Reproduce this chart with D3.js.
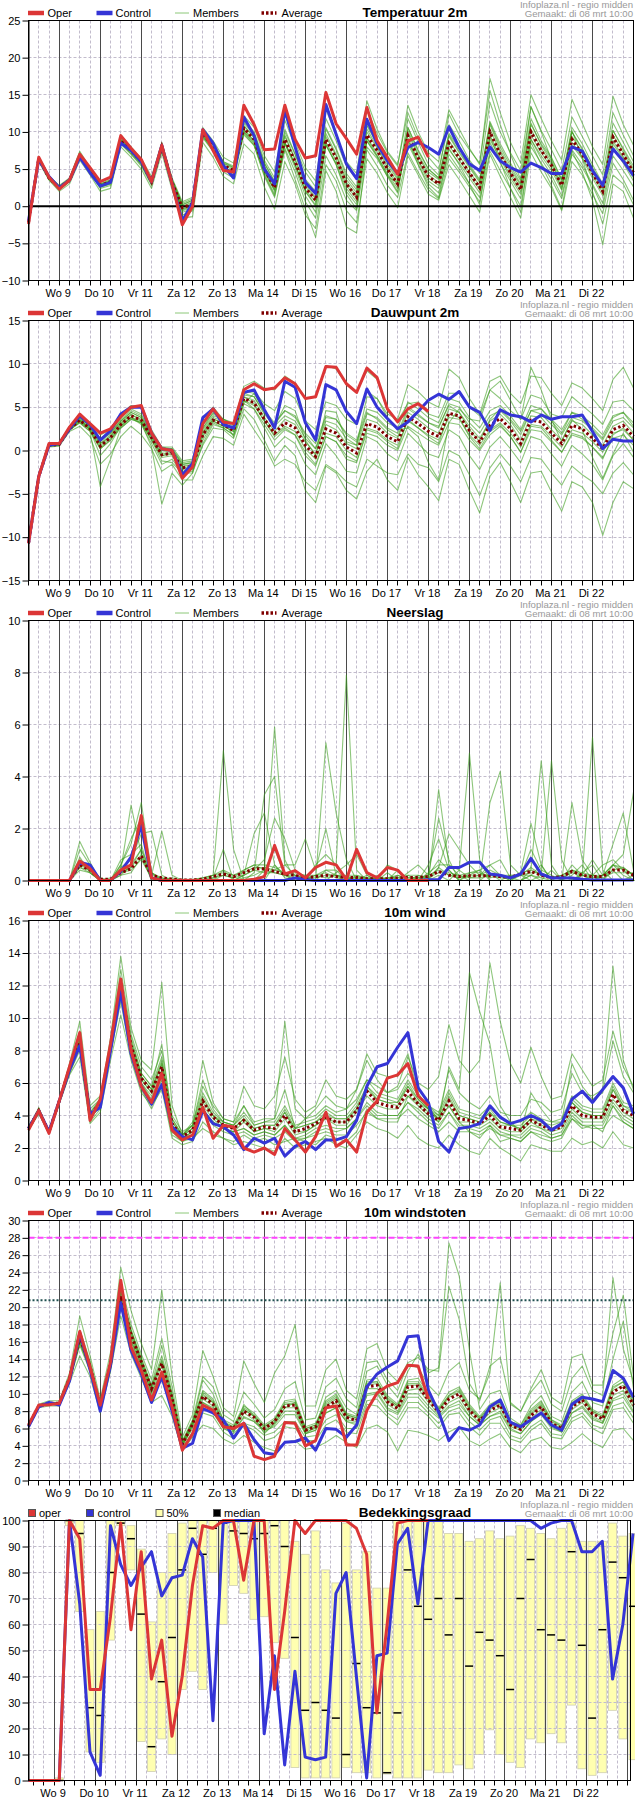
<!DOCTYPE html>
<html><head><meta charset="utf-8">
<script src="https://cdn.jsdelivr.net/npm/d3@7"></script>
<style>
body{margin:0;background:#fff}
svg{display:block}
text{font-family:"Liberation Sans",Arial,Helvetica,sans-serif}
</style>
</head><body>
<svg id="c" width="635" height="1800"></svg>
<script>
// ---------------- DATA ----------------
const dayLabels = ["Wo 9","Do 10","Vr 11","Za 12","Zo 13","Ma 14","Di 15","Wo 16","Do 17","Vr 18","Za 19","Zo 20","Ma 21","Di 22"];
const sourceLines = ["Infoplaza.nl - regio midden","Gemaakt: di 08 mrt 10:00"];
const legendNames = ["Oper","Control","Members","Average"];
const cloudLegendNames = ["oper","control","50%","median"];

// Temperature 2m (6-hourly, from Tue 8 Mar 06 UTC)
const tempOper = [-2.4,6.6,3.9,2.3, 3.5,7.0,5.2,3.3, 3.9,9.5,7.8,6.3, 3.3,8.2,3.0,-2.5, 0.0,10.3,7.5,4.8, 4.6,13.6,11.0,7.6, 7.7,13.6,9.0,6.5, 6.8,15.3,11.1,9.1, 7.0,13.3,8.8,6.6, 4.3,8.8,9.3,6.6];
const tempCtrl = [-2.0,6.3,4.0,2.5, 3.5,6.6,4.5,2.7, 3.2,8.5,7.5,6.0, 3.3,8.2,3.0,-2.0, 0.5,10.3,8.5,5.5, 3.8,12.0,9.5,5.0, 3.0,13.0,8.0,3.2, 1.7,13.7,9.7,5.7, 3.7,11.7,8.4,6.1, 4.4,7.9,8.6,7.9, 7.0,10.7,7.9,5.7, 4.8,8.0,6.1,5.2, 4.6,5.8,5.2,4.4, 4.4,8.0,7.4,4.8, 2.8,7.7,6.1,4.1];
const tempAvg = [-2.2,6.4,3.8,2.5, 3.5,6.8,4.8,2.8, 3.3,8.8,7.5,6.0, 3.3,8.0,3.2,-0.2, 0.3,9.8,8.0,5.5, 4.8,10.5,9.0,5.0, 2.5,9.0,6.0,2.5, 0.8,9.0,6.5,3.0, 1.2,9.6,7.5,5.0, 3.0,9.5,6.5,4.0, 3.0,8.5,6.5,4.5, 2.5,10.0,7.0,4.5, 2.2,10.0,7.5,5.5, 2.8,9.0,7.0,4.5, 2.0,9.3,7.0,4.5];
const tempMembers = [
 [-2.0,6.6,4.0,2.8, 3.8,7.4,5.2,3.2, 3.8,9.6,8.0,6.4, 4.0,8.6,3.8,0.6, 1.2,10.6,8.8,6.6, 5.8,12.2,10.6,6.8, 4.6,12.4,8.6,5.2, 3.4,13.0,9.6,6.0, 4.4,14.2,10.4,7.4, 5.6,12.6,9.2,6.6, 5.0,11.0,8.8,6.2, 4.4,14.0,10.0,7.2, 4.8,13.4,10.2,7.6, 4.8,12.0,9.4,6.8, 4.2,12.6,9.6,6.8],
 [-2.4,6.0,3.5,2.0, 3.0,6.2,4.2,2.0, 2.4,8.0,6.6,5.0, 2.4,7.2,2.2,-1.6, -1.4,8.6,6.6,4.0, 3.0,8.4,7.0,2.6, -0.4,6.0,3.0,-1.2, -3.0,5.6,3.4,-0.6, -2.2,6.4,4.4,1.8, -0.2,6.8,4.2,1.6, 0.8,5.6,3.6,1.4, -0.8,7.0,4.0,1.2, -1.6,7.2,4.6,2.4, -0.6,6.0,4.2,1.6, -1.0,5.8,3.6,0.8],
 [-2.2,6.3,3.7,2.4, 3.4,6.6,4.6,2.4, 2.8,8.4,7.0,5.4, 2.8,7.6,2.6,-1.2, -0.6,9.4,7.4,4.6, 3.8,9.6,8.2,4.0, 1.2,7.6,3.6,-0.4, -4.2,4.8,2.0,-2.8, -3.6,8.0,6.4,4.0, 3.2,11.8,8.6,5.6, 4.2,12.4,9.6,7.6, 5.8,15.6,11.0,7.0, 3.6,13.4,10.0,6.2, 2.2,10.2,6.4,2.0, -2.4,4.2,3.0,0.2],
 [-2.1,6.5,3.9,2.6, 3.6,7.0,5.0,3.0, 3.5,9.0,7.8,6.2, 3.6,8.3,3.6,0.2, 0.8,10.2,8.4,6.0, 5.4,11.2,9.6,5.8, 3.4,10.4,7.0,3.6, 2.0,10.6,7.8,4.4, 2.6,11.0,8.6,6.4, 4.4,8.4,5.6,3.0, 1.8,7.0,5.0,3.0, 1.2,8.6,5.8,3.4, 1.0,9.0,6.4,4.2, 1.4,7.6,5.6,3.0, 0.4,8.0,5.8,3.4],
 [-2.3,6.2,3.6,2.2, 3.3,6.6,4.4,2.6, 3.0,8.6,7.2,5.6, 3.0,7.8,3.0,-0.6, -0.2,9.6,7.8,5.2, 4.4,10.0,8.4,4.4, 1.6,8.4,5.2,1.4, -0.8,8.2,5.6,2.0, 0.2,8.8,6.6,4.0, 1.8,10.6,7.6,5.0, 3.8,9.8,7.8,5.6, 3.6,11.4,8.4,5.8, 3.4,11.8,8.8,6.6, 3.6,10.6,8.4,5.6, 3.0,11.2,8.6,6.0],
 [-2.0,6.7,4.1,2.7, 3.7,7.2,5.0,3.0, 3.6,9.2,7.8,6.2, 3.6,8.4,3.6,0.4, 1.0,10.0,8.2,5.8, 5.2,11.6,10.0,6.2, 3.8,11.6,8.0,4.6, 2.6,11.8,8.8,5.4, 3.6,13.0,9.8,7.2, 5.4,13.6,10.0,7.2, 6.0,13.0,10.4,7.8, 5.6,17.2,12.6,8.6, 5.8,15.0,11.8,8.8, 6.2,14.4,11.2,8.0, 5.6,14.8,11.0,8.2],
 [-2.3,6.2,3.6,2.3, 3.4,6.6,4.6,2.6, 3.0,8.4,7.0,5.6, 3.0,7.6,2.8,-0.8, -0.4,9.2,7.4,5.0, 4.2,9.8,8.2,4.2, 1.4,7.8,4.6,0.6, -1.6,6.8,4.2,0.8, -0.6,7.6,5.4,2.8, 1.2,7.2,4.6,2.2, 1.0,6.4,4.6,2.6, 0.6,7.4,4.8,2.4, 0.0,8.0,5.8,3.6, 1.0,7.0,5.2,2.8, -0.2,6.8,4.8,2.6],
 [-2.2,6.4,3.8,2.5, 3.5,6.8,4.7,2.8, 3.2,8.8,7.4,5.8, 3.2,7.8,3.0,-0.4, 0.0,9.8,7.8,5.2, 4.6,10.4,8.8,4.8, 2.0,8.6,5.6,2.0, 0.0,8.4,5.6,1.6, -0.4,9.2,6.8,4.2, 2.0,9.0,5.6,2.6, 1.2,7.8,5.6,3.0, 0.2,9.4,6.0,2.4, -0.8,8.6,5.6,2.8, -0.4,7.4,4.6,0.8, -5.2,3.0,2.0,-1.6],
 [-2.1,6.5,3.9,2.6, 3.6,6.9,4.9,2.9, 3.4,9.0,7.7,6.1, 3.4,8.2,3.4,0.0, 0.6,10.0,8.3,5.8, 5.0,10.9,9.3,5.4, 2.8,9.6,6.4,2.9, 1.2,9.8,7.0,3.6, 1.8,10.4,8.0,5.6, 3.6,10.2,7.0,4.6, 3.6,9.4,7.2,5.2, 3.2,11.0,7.6,5.0, 2.8,11.2,8.2,6.0, 3.4,10.0,7.6,5.0, 2.6,10.2,7.6,5.0],
 [-2.3,6.3,3.7,2.4, 3.4,6.7,4.7,2.7, 3.2,8.6,7.3,5.8, 3.2,7.8,3.0,-0.5, 0.0,9.6,7.8,5.2, 4.6,10.0,8.6,4.6, 2.2,8.4,5.6,2.0, 0.2,8.2,5.8,2.4, 0.6,8.8,6.8,4.4, 2.4,8.8,6.0,3.4, 2.4,7.6,5.8,3.8, 1.8,9.0,6.4,3.8, 1.6,9.0,6.8,4.8, 2.2,8.2,6.4,3.8, 1.4,8.4,6.4,3.8],
 [-2.2,6.4,3.8,2.5, 3.5,6.8,4.8,2.9, 3.3,8.9,7.6,6.0, 3.3,8.1,3.3,-0.1, 0.4,10.2,8.2,5.6, 4.8,10.8,9.2,5.2, 2.6,9.4,6.2,2.6, 1.0,9.4,6.8,3.2, 1.4,10.0,7.8,5.2, 3.2,9.8,6.8,4.2, 3.2,8.8,6.8,4.6, 2.8,10.4,7.2,4.6, 2.4,10.4,7.8,5.6, 3.0,9.4,7.2,4.6, 2.2,9.6,7.2,4.6],
 [-2.2,6.5,3.9,2.5, 3.6,6.9,4.8,2.8, 3.4,8.7,7.4,5.9, 3.3,8.0,3.1,-0.3, 0.2,9.4,7.6,5.2, 4.6,10.2,8.8,4.8, 2.2,8.6,5.6,2.2, 0.6,8.6,6.2,2.8, 1.0,9.2,7.2,4.8, 2.8,9.2,6.2,3.8, 2.8,8.2,6.2,4.2, 2.2,9.6,6.6,4.2, 2.0,9.6,7.2,5.2, 2.6,8.6,6.6,4.2, 1.8,8.8,6.6,4.2],
 [-2.1,6.4,3.8,2.6, 3.5,6.8,4.9,2.9, 3.3,8.8,7.5,6.1, 3.4,8.1,3.4,0.2, 0.8,10.4,8.6,6.0, 5.2,11.4,9.8,5.8, 3.2,10.0,7.0,3.4, 1.8,10.4,7.6,4.0, 2.2,10.8,8.4,6.0, 3.8,10.6,7.4,5.0, 3.8,9.6,7.4,5.4, 3.4,11.2,8.0,5.4, 3.0,11.0,8.4,6.4, 3.6,10.0,7.8,5.2, 2.8,10.2,7.8,5.4]
];

// Dauwpunt 2m
const dewOper = [-10.7,-3.0,0.8,0.8, 2.7,4.2,3.1,2.0, 2.5,3.9,5.0,5.2, 2.0,0.2,0.0,-3.2, -1.9,3.1,4.8,3.3, 3.1,7.0,7.7,7.0, 7.2,8.4,7.7,6.0, 6.2,9.7,9.6,7.7, 6.7,9.5,8.4,4.8, 3.3,4.8,5.4,4.5];
const dewCtrl = [-10.7,-3.0,0.6,0.8, 2.5,4.0,3.0,1.2, 2.3,4.2,5.0,5.0, 2.0,0.2,0.0,-2.8, -1.5,3.8,4.8,3.0, 2.6,6.7,7.0,4.7, 2.6,8.0,7.3,3.2, 1.2,7.6,7.0,4.5, 3.1,7.1,5.0,3.7, 2.5,3.3,4.5,5.8, 6.5,5.9,6.8,5.0, 4.4,2.3,4.7,4.1, 3.9,3.3,4.1,3.6, 3.9,3.9,4.1,2.2, 0.2,1.3,1.1,1.1];
const dewAvg = [-10.7,-3.0,0.6,0.7, 2.5,3.5,2.5,0.5, 1.5,3.0,4.0,3.5, 1.5,-0.5,-0.3,-2.0, -1.8,1.8,3.5,3.0, 2.3,6.0,5.5,3.6, 2.0,3.2,2.6,0.6, -0.7,2.5,2.0,0.4, -0.3,3.1,2.7,1.6, 1.0,3.9,3.1,2.2, 1.6,4.3,4.0,2.3, 1.0,2.9,3.7,2.5, 0.8,3.5,3.3,2.0, 0.8,2.9,2.5,1.4, 0.2,2.4,2.9,1.6];
const dewMembers = [
 [-10.6,-2.9,0.8,0.9, 2.8,4.2,3.2,1.8, 2.4,4.2,5.2,5.0, 2.4,0.4,0.2,-2.8, -1.4,3.6,5.0,3.6, 3.2,7.4,8.0,7.2, 7.0,8.6,7.8,6.0, 6.2,9.8,9.4,7.6, 6.8,9.2,8.2,4.6, 3.4,5.4,5.6,4.2, 3.8,6.6,6.6,5.0, 4.0,7.0,6.0,4.6, 3.6,6.4,6.0,4.2, 3.8,6.2,5.2,4.2, 3.0,5.6,5.8,4.6],
 [-10.8,-3.1,0.4,0.5, 2.2,2.8,1.6,-1.6, -0.4,1.6,2.8,1.8, 0.2,-2.4,-1.6,-3.4, -3.4,-0.6,1.6,1.4, 0.6,4.2,2.4,0.6, -1.8,-1.0,-1.6,-3.6, -4.6,-1.6,-2.4,-3.6, -4.2,-1.0,-1.8,-2.6, -2.8,-0.4,-1.6,-2.0, -3.6,0.0,-0.6,-2.8, -5.2,-2.0,-0.4,-1.8, -3.6,-0.8,-1.0,-2.6, -4.0,-1.8,-2.8,-3.6, -5.0,-2.6,-1.4,-2.8],
 [-10.7,-3.0,0.6,0.8, 2.4,3.2,2.2,-4.2, -1.0,2.6,3.6,3.2, 0.4,-6.2,-2.6,-4.0, -2.6,2.6,4.4,3.6, 1.6,5.4,6.6,4.6, 2.8,5.2,4.6,1.2, -0.6,4.6,4.4,1.0, 0.6,6.2,6.0,3.8, 2.4,2.6,1.6,-1.4, -3.4,3.2,4.8,3.6, 3.4,7.0,8.0,5.8, 3.6,9.6,7.0,3.6, 1.0,3.6,2.4,-0.8, -3.2,-0.4,2.0,-0.2],
 [-10.7,-3.0,0.7,0.7, 2.6,3.7,2.8,1.2, 2.0,3.4,4.4,3.8, 1.8,0.0,0.2,-1.6, -1.4,2.2,3.6,3.2, 2.6,6.4,6.2,4.4, 3.0,4.6,3.8,1.8, 0.2,3.8,3.6,1.8, 1.0,4.4,3.6,2.4, 1.6,4.8,4.0,3.2, 2.8,5.2,4.4,2.4, 1.0,3.6,4.8,3.6, 2.2,4.6,4.8,3.4, 2.0,4.4,3.6,2.6, 1.4,3.8,4.4,2.8],
 [-10.7,-3.1,0.5,0.6, 2.3,3.4,2.4,-0.6, 0.8,2.8,3.8,3.0, 0.8,-1.6,-1.0,-2.6, -2.6,0.8,3.0,2.6, 1.8,5.8,4.8,2.6, 0.4,1.6,0.8,-1.6, -2.8,0.8,-0.6,-2.4, -2.6,1.6,1.0,-0.4, -1.2,2.0,0.8,-0.4, -0.8,2.4,1.6,-0.6, -2.2,0.4,1.6,0.2, -1.4,1.6,1.2,-0.4, -1.8,0.6,-0.4,-1.6, -3.4,-0.6,0.8,-0.8],
 [-10.8,-3.0,0.5,0.6, 2.4,3.6,2.4,0.2, 1.2,3.0,3.8,3.2, 1.2,-1.2,-1.4,-2.6, -2.4,0.6,2.6,2.4, 1.4,4.8,3.6,1.2, -1.2,0.6,-0.6,-4.6, -6.0,-1.8,-2.6,-4.6, -5.6,-2.4,-1.0,-3.4, -4.6,-0.8,-2.8,-4.2, -5.8,-1.0,-1.6,-4.6, -7.2,-3.0,-1.4,-3.6, -6.0,-2.6,-2.4,-4.8, -7.0,-3.6,-4.2,-6.0, -9.8,-6.0,-3.6,-4.4],
 [-10.6,-2.9,0.7,0.8, 2.7,3.9,2.8,1.4, 2.2,3.8,4.8,4.2, 2.0,0.4,0.4,-1.2, -1.0,3.0,4.2,3.6, 3.0,6.8,6.8,5.4, 4.6,6.8,6.0,3.4, 2.4,5.6,5.2,3.6, 3.0,6.8,6.0,4.2, 3.6,7.6,6.8,5.6, 5.0,9.4,8.4,6.0, 4.2,8.0,8.6,6.6, 5.4,8.6,8.4,6.6, 5.2,7.8,7.2,6.0, 4.6,8.2,9.6,7.2],
 [-10.7,-3.0,0.6,0.7, 2.5,3.5,2.6,0.8, 1.6,3.2,4.2,3.4, 1.6,-0.6,-0.2,-2.0, -1.8,1.8,3.4,2.8, 2.2,6.2,5.4,3.4, 1.6,2.6,1.8,-0.6, -1.8,1.6,1.0,-1.0, -1.4,2.4,2.0,1.0, 0.2,3.6,2.6,1.6, 0.8,4.2,3.8,1.6, 0.2,2.2,3.0,1.6, -0.2,2.8,2.6,1.2, -0.2,2.0,1.6,0.4, -1.0,1.8,2.6,1.2],
 [-10.7,-3.0,0.7,0.8, 2.6,3.8,2.8,0.8, 1.8,3.4,4.4,3.8, 1.8,-0.2,0.0,-1.6, -1.4,2.4,3.8,3.4, 2.8,6.6,6.2,4.2, 2.8,4.0,3.4,1.4, 0.2,3.4,3.0,1.4, 0.6,4.2,3.8,2.6, 2.0,5.0,4.2,3.2, 2.6,5.4,5.0,3.2, 2.0,4.0,4.6,3.4, 1.8,4.6,4.2,3.0, 1.8,3.8,3.4,2.4, 1.2,3.4,3.8,2.6],
 [-10.7,-3.0,0.5,0.6, 2.4,3.2,2.2,0.2, 1.2,2.6,3.6,3.2, 1.2,-0.8,-0.6,-2.4, -2.2,1.2,3.2,2.6, 1.8,5.4,4.8,3.0, 1.2,2.4,1.8,-0.2, -1.6,1.6,1.0,-0.6, -1.2,2.0,1.6,0.6, 0.0,2.8,2.0,1.2, 0.6,3.2,3.0,1.2, 0.0,1.8,2.8,1.6, -0.2,2.4,2.2,1.0, -0.2,1.8,1.4,0.4, -0.8,1.4,1.8,0.6],
 [-10.7,-3.0,0.6,0.7, 2.5,3.6,2.6,0.6, 1.6,3.1,4.1,3.6, 1.6,-0.4,-0.2,-1.8, -1.6,2.0,3.6,3.2, 2.4,6.2,5.8,3.8, 2.2,3.6,3.0,1.0, -0.4,3.0,2.4,0.8, 0.2,3.6,3.2,2.0, 1.4,4.4,3.6,2.6, 2.0,4.8,4.4,2.8, 1.4,3.4,4.2,3.0, 1.2,4.0,3.8,2.4, 1.2,3.4,3.0,1.8, 0.6,2.8,3.4,2.0],
 [-10.7,-3.0,0.6,0.7, 2.5,3.4,2.4,0.4, 1.4,2.8,3.8,3.4, 1.4,-0.6,-0.4,-2.2, -2.0,1.6,3.4,2.8, 2.2,5.8,5.2,3.4, 1.8,2.8,2.2,0.2, -1.0,2.0,1.6,0.0, -0.8,2.6,2.2,1.2, 0.6,3.4,2.6,1.8, 1.2,3.8,3.6,1.8, 0.6,2.4,3.2,2.0, 0.4,3.0,2.8,1.6, 0.4,2.4,2.0,1.0, -0.2,2.0,2.4,1.2],
 [-10.6,-2.9,0.7,0.8, 2.7,3.9,3.0,1.0, 2.0,3.6,4.6,4.0, 2.0,0.0,0.2,-1.4, -1.2,2.6,4.0,3.6, 3.0,6.8,6.6,4.6, 3.2,4.6,4.0,2.0, 0.8,4.0,3.6,2.0, 1.2,4.8,4.4,3.2, 2.6,5.6,4.8,3.8, 3.2,6.0,5.6,3.8, 2.6,4.6,5.2,4.0, 2.4,5.2,4.8,3.6, 2.4,4.4,4.0,3.0, 1.8,4.0,4.4,3.2]
];

// Neerslag
const rainOper = [0,0,0,0, 0,0.75,0.45,0, 0,0.4,0.6,2.5, 0.1,0,0,0, 0,0,0,0, 0,0,0.05,0.15, 1.35,0.25,0.38,0.1, 0.5,0.7,0.6,0.03, 1.2,0.3,0.1,0.5, 0.4,0,0,0];
const rainCtrl = [0,0,0,0, 0,0.7,0.6,0, 0,0.35,0.9,2.1, 0.1,0,0,0, 0,0,0,0, 0,0,0,0, 0,0,0.1,0.03, 0,0,0,0, 0,0,0,0, 0,0,0,0.03, 0.03,0.5,0.5,0.7, 0.7,0.25,0.2,0.1, 0.25,0.85,0.25,0.1, 0.1,0.1,0.05,0.02, 0.02,0.02,0.02,0.02];
const rainAvg = [0,0,0,0, 0,0.6,0.4,0.05, 0.05,0.3,0.45,0.95, 0.2,0.1,0.05,0.02, 0.02,0.05,0.15,0.25, 0.15,0.3,0.45,0.45, 0.35,0.25,0.2,0.1, 0.15,0.2,0.15,0.12, 0.12,0.07,0.07,0.07, 0.1,0.12,0.12,0.15, 0.35,0.2,0.15,0.18, 0.18,0.18,0.15,0.12, 0.25,0.35,0.2,0.1, 0.15,0.35,0.2,0.15, 0.15,0.4,0.4,0.2];
const rainMembers = [
 [0,0,0,0, 0,1.2,0.6,0, 0,0.6,1.4,3.0, 0.3,0,0,0, 0,0,0,0.4, 0,0.2,1.8,2.6, 0.6,0.2,0,0, 0,0.4,0.2,0, 0.2,0,0,0.3, 0,0,0,0.2, 2.4,0.8,0,0.3, 0.4,0,0,0, 0.3,2.2,0.6,0, 0,0.4,0,0, 0.2,1.4,2.6,0.4],
 [0,0,0,0, 0,0.5,0.4,0, 0,0.3,0.5,1.2, 0,0,0,0, 0,0,0.2,5.0, 1.2,0,0,0.4, 5.9,0.8,0,0.2, 0,5.3,2.6,0.8, 0,0,0,0, 0,0.2,0,0, 0,0,0.4,4.9, 0.8,0,0,0, 0,0.4,4.6,0.6, 0,0,0.2,5.5, 0.4,0,0,0],
 [0,0,0,0, 0,0.8,0.5,0, 0,0.5,0.8,1.8, 1.9,0.2,0,0, 0,0,0,0.2, 0.1,0.4,0.6,0.4, 1.2,0.2,0.1,0, 0.6,1.0,0.6,7.9, 0.4,0,0.2,0, 0.4,0,0,0.3, 0.6,0.6,0.4,0.1, 0.2,0.6,0.8,0.1, 0,0,0.2,4.6, 0.8,0,0.3,0.6, 0,0.6,1.0,3.4],
 [0,0,0,0, 0,0.6,0.4,0, 0,0.2,0.3,0.9, 0.1,0,0,0, 0,0,0,0, 0,0,0.3,3.3, 4.0,0.6,0.2,0, 0,0,0,0.2, 0,0,0,0.6, 0.4,0,0,0, 3.5,0.6,0.2,0, 0,0,0,0, 0,0.2,0,0, 0,0.2,0.6,0, 0,0,0,0.2],
 [0,0,0,0, 0,0.4,0.3,0, 0,0.4,0.6,2.2, 0.2,1.9,0.2,0, 0,0,0.1,1.2, 0,0.2,0.4,0.8, 2.4,1.6,0.4,0.1, 0,0,0.3,0.6, 1.0,0.2,0,0, 0,0,0.2,0, 0.5,1.8,1.2,0.6, 0.2,0.4,0.2,0, 0.2,1.2,0.4,0.2, 0,0.6,0.2,0, 0.2,0.6,0.2,0],
 [0,0,0,0, 0,1.5,0.7,0, 0,0.8,1.0,1.4, 0,0,0,0, 0,0,0,0, 0,0,0,0.2, 0.4,0.6,0.6,1.6, 0.4,2.0,0.2,0.1, 0,0,0.1,0, 0,0.3,0.6,0.2, 0.8,0.4,0,0, 0,3.0,4.2,0.6, 0.2,0,0,0.4, 0,3.0,0.8,0.2, 0,0.4,0,0, 0,0.2,0.6,0.4],
 [0,0,0,0, 0,0.7,0.6,0, 0,0.4,2.9,1.0, 0,0,0,0, 0,0,0,0, 0,0.1,0.2,0.4, 0.3,0.2,0,0, 0.2,0.4,0.4,0, 0,0.2,0,0, 0,0,0,0, 0.2,0,0,0, 0,0.3,0,0.2, 0.2,0.2,0.1,0, 0,0,0,0.2, 0.6,0.8,0.4,0],
 [0,0,0,0, 0,0.9,0.3,0, 0,0.6,1.6,2.4, 0.3,0,0,0, 0,0,0,0, 0,0,0,0, 0.6,0.1,0,0, 0,0,0,0, 0,0,0,0, 0.2,0,0,0.6, 1.6,0.4,0,0.2, 0.4,0.6,0.2,0, 0,0.2,0.6,0, 0.2,0,0.2,0.8, 0.2,0.6,0.4,0.2],
 [0,0,0,0, 0,0.6,0.5,0.05, 0,0.3,0.5,1.0, 0.2,0.1,0,0, 0,0.1,0.2,0.3, 0.2,0.3,0.5,0.5, 0.4,0.3,0.2,0.1, 0.1,0.2,0.2,0.1, 0.1,0.1,0,0.1, 0.1,0.1,0.1,0.2, 0.4,0.2,0.1,0.2, 0.2,0.2,0.1,0.1, 0.3,0.4,0.2,0.1, 0.1,0.3,0.2,0.1, 0.2,0.4,0.5,0.2],
 [0,0,0,0, 0,0.5,0.3,0, 0.1,0.3,0.4,0.8, 0.1,0.05,0.1,0, 0,0,0.1,0.2, 0.1,0.2,0.4,0.3, 0.3,0.2,0.2,0.1, 0.2,0.3,0.1,0.1, 0.1,0.05,0.1,0.05, 0.1,0.2,0.2,0.1, 0.3,0.3,0.2,0.1, 0.1,0.2,0.2,0.1, 0.2,0.3,0.3,0.1, 0.2,0.4,0.2,0.2, 0.1,0.3,0.3,0.3],
 [0,0,0,0, 0,0.7,0.4,0.1, 0,0.2,0.6,1.2, 0.3,0.1,0,0.05, 0.05,0.1,0.2,0.4, 0.2,0.4,0.6,0.6, 0.5,0.3,0.3,0.2, 0.2,0.1,0.2,0.2, 0.2,0.1,0.1,0.1, 0.2,0.1,0.1,0.1, 0.5,0.2,0.2,0.3, 0.3,0.1,0.2,0.2, 0.2,0.5,0.2,0.1, 0.2,0.4,0.3,0.2, 0.2,0.6,0.5,0.2]
];

// 10m wind
const windOper = [3.1,4.3,2.9,4.9, 7.0,9.1,3.7,5.0, 8.4,12.4,8.0,5.8, 4.8,6.6,3.1,2.5, 2.8,4.5,2.6,3.4, 3.3,2.0,1.75,2.0, 1.6,3.2,2.5,1.75, 2.7,4.2,2.1,2.5, 1.75,4.2,4.9,6.3, 6.5,7.2,5.2,4.6];
const windCtrl = [3.2,4.3,3.0,4.9, 6.8,8.3,4.1,4.5, 8.0,11.6,7.8,5.8, 4.7,5.9,3.3,2.7, 2.5,4.3,3.5,3.3, 2.8,1.9,2.6,2.3, 2.6,1.5,2.1,2.4, 1.9,2.5,2.5,2.7, 3.7,5.8,7.0,7.2, 8.2,9.1,5.7,4.8, 2.4,1.75,3.2,3.3, 3.5,4.6,3.9,3.5, 3.7,4.0,3.7,3.1, 3.5,5.0,5.5,4.8, 5.6,6.4,5.7,4.1];
const windAvg = [3.2,4.3,3.0,4.9, 6.9,8.5,4.0,4.8, 8.2,11.9,8.3,6.3, 5.5,7.0,3.5,2.7, 3.1,4.9,3.9,3.4, 3.2,3.7,3.1,3.3, 3.2,4.0,3.0,3.2, 3.5,3.9,3.6,3.6, 4.3,5.5,4.8,4.6, 4.5,5.5,4.7,4.1, 3.7,4.9,3.8,3.7, 3.5,4.0,3.3,3.2, 3.1,3.7,3.4,3.1, 3.3,4.6,4.0,3.9, 3.9,5.3,4.3,4.0];
const windMembers = [
 [3.2,4.5,3.0,5.0, 7.2,9.8,4.6,5.2, 8.8,13.8,9.4,7.4, 6.8,12.2,4.6,2.8, 3.6,7.4,4.8,3.8, 3.6,5.8,4.6,4.4, 5.2,7.6,5.0,4.2, 4.6,6.2,5.2,5.0, 5.6,7.4,6.2,5.4, 5.8,7.6,6.0,5.6, 6.4,9.6,7.4,6.6, 7.4,13.4,9.8,7.2, 6.0,8.2,6.4,5.0, 5.2,7.8,6.8,5.8, 6.2,9.2,7.0,5.8],
 [3.1,4.1,2.9,4.7, 6.5,7.6,3.5,4.2, 7.4,10.2,7.4,5.4, 4.6,5.6,2.6,2.2, 2.4,3.6,3.0,2.6, 2.2,2.4,2.2,2.0, 1.8,2.6,2.0,2.2, 2.4,2.6,2.2,2.0, 2.8,3.6,3.2,3.0, 2.6,3.4,2.6,2.2, 2.0,2.8,2.2,1.8, 1.6,2.6,2.0,1.6, 1.2,2.2,2.0,1.8, 1.8,2.6,2.2,2.4, 2.0,3.0,2.2,2.0],
 [3.2,4.3,3.1,4.9, 7.0,8.8,4.2,4.9, 8.4,12.4,8.8,6.6, 5.8,8.4,3.8,2.8, 3.4,6.2,4.4,3.6, 3.4,4.6,3.4,3.6, 3.8,5.6,3.2,3.8, 4.4,5.2,4.6,4.4, 5.6,7.8,6.6,6.4, 6.4,7.8,5.4,4.4, 3.6,7.0,5.6,12.8, 10.4,8.4,4.6,3.6, 3.0,5.4,4.4,3.6, 3.6,7.2,5.8,5.0, 5.4,8.6,6.4,5.4],
 [3.3,4.4,3.0,4.9, 6.8,8.2,3.8,4.6, 8.0,11.6,8.0,6.0, 5.0,6.4,3.2,2.6, 2.8,4.4,3.6,3.2, 3.0,3.2,2.8,3.0, 2.8,3.4,2.6,2.6, 3.0,3.2,3.0,3.2, 3.8,4.6,4.0,4.0, 4.0,4.8,4.4,3.8, 3.4,4.2,3.4,3.4, 3.2,3.6,3.0,2.8, 2.8,3.4,3.2,2.8, 3.0,4.2,3.6,3.6, 3.6,4.8,4.0,3.6],
 [3.2,4.2,3.0,4.8, 6.6,8.0,3.6,4.4, 7.8,11.0,7.6,5.6, 4.4,5.8,2.8,2.4, 2.6,3.2,2.8,2.6, 2.4,2.8,2.4,2.6, 2.2,2.4,2.6,2.4, 2.2,2.8,2.6,2.4, 3.0,4.4,3.8,3.6, 3.6,5.2,4.8,4.4, 3.8,4.6,3.6,3.0, 2.6,3.4,2.4,2.6, 2.4,3.0,2.6,2.4, 2.6,3.8,3.2,3.4, 3.0,4.6,3.6,3.2],
 [3.2,4.4,3.0,5.0, 7.0,9.2,4.4,5.0, 8.6,13.0,9.0,7.0, 6.2,8.0,4.0,3.0, 3.4,5.8,4.6,3.8, 3.6,4.6,3.6,3.8, 3.8,9.8,4.4,3.8, 4.0,4.6,4.2,4.4, 5.0,6.2,5.8,5.4, 5.6,6.6,5.8,4.6, 4.0,6.8,5.4,4.8, 4.4,5.2,4.2,4.0, 4.0,5.0,4.8,4.2, 4.4,6.6,5.4,5.2, 5.6,13.2,7.4,5.6],
 [3.2,4.3,3.0,4.9, 6.9,8.6,4.0,4.8, 8.2,12.0,8.2,6.2, 5.4,7.2,3.4,2.6, 3.0,4.8,4.0,3.4, 3.2,3.8,3.0,3.2, 3.2,4.2,3.0,3.0, 3.4,3.8,3.6,3.6, 4.4,5.6,5.0,4.8, 4.8,5.8,5.0,4.4, 3.8,5.0,4.0,3.8, 3.6,4.2,3.6,3.4, 3.2,3.8,3.4,3.2, 3.4,4.8,4.2,4.0, 4.0,5.6,4.6,4.2],
 [3.1,4.2,2.9,4.8, 6.6,8.2,3.8,4.6, 7.8,11.4,7.8,5.8, 4.8,6.2,3.0,2.4, 2.8,4.2,3.4,3.0, 2.8,3.0,2.6,2.8, 2.6,3.0,2.4,2.6, 2.8,3.0,2.8,2.8, 3.4,4.2,3.8,3.8, 3.8,4.4,3.8,3.4, 3.0,3.6,3.0,3.0, 2.8,3.2,2.8,2.6, 2.4,3.0,2.8,2.6, 2.8,3.8,3.4,3.2, 3.2,4.0,3.6,3.2],
 [3.2,4.4,3.0,4.9, 7.0,8.8,4.2,5.0, 8.4,12.4,8.6,6.6, 5.8,7.6,3.8,2.8, 3.4,5.4,4.2,3.6, 3.4,4.2,3.4,3.6, 3.6,4.6,3.4,3.6, 3.8,4.4,4.0,4.0, 4.8,6.2,5.4,5.2, 5.0,6.2,5.2,4.6, 4.2,5.6,4.4,4.2, 4.0,4.6,3.8,3.6, 3.6,4.2,3.8,3.6, 3.8,5.2,4.6,4.4, 4.4,6.0,4.8,4.6],
 [3.1,4.2,3.0,4.8, 6.8,8.2,3.8,4.6, 8.0,11.4,8.0,6.0, 5.2,6.6,3.2,2.6, 2.8,4.4,3.6,3.2, 3.0,3.2,2.8,3.0, 2.8,3.4,2.6,2.8, 3.2,3.4,3.2,3.2, 3.8,4.8,4.2,4.0, 4.0,4.8,4.2,3.6, 3.2,4.2,3.2,3.2, 3.0,3.4,2.8,2.8, 2.6,3.2,3.0,2.6, 2.8,4.0,3.4,3.4, 3.4,4.6,3.8,3.4],
 [3.2,4.3,3.0,4.9, 6.9,8.6,4.0,4.8, 8.2,12.0,8.4,6.4, 5.6,7.2,3.6,2.8, 3.2,5.0,4.0,3.4, 3.2,3.8,3.2,3.4, 3.4,4.2,3.2,3.4, 3.6,4.0,3.8,3.8, 4.4,5.8,5.0,4.8, 4.6,5.8,4.8,4.2, 3.8,5.2,4.0,3.8, 3.6,4.2,3.4,3.4, 3.2,3.8,3.6,3.2, 3.4,4.8,4.2,4.0, 4.0,5.6,4.4,4.2],
 [3.2,4.3,3.0,4.9, 6.8,8.4,3.9,4.7, 8.1,11.7,8.2,6.2, 5.4,6.8,3.4,2.6, 3.0,4.6,3.8,3.2, 3.0,3.6,3.0,3.2, 3.0,3.8,2.8,3.0, 3.4,3.8,3.4,3.4, 4.2,5.2,4.6,4.4, 4.4,5.2,4.6,4.0, 3.6,4.6,3.6,3.6, 3.4,3.8,3.2,3.0, 3.0,3.6,3.2,3.0, 3.2,4.4,3.8,3.8, 3.8,5.0,4.2,3.8],
 [3.3,4.4,3.1,5.0, 7.0,8.6,4.1,4.9, 8.3,12.2,8.4,6.4, 5.6,7.4,3.6,2.7, 3.2,5.2,4.0,3.6, 3.4,4.0,3.2,3.4, 3.4,4.4,3.2,3.4, 3.6,4.2,3.8,3.8, 4.6,5.8,5.2,5.0, 4.8,6.0,5.0,4.4, 4.0,5.4,4.2,4.0, 3.8,4.4,3.6,3.4, 3.4,4.0,3.6,3.4, 3.6,5.0,4.4,4.2, 4.2,5.8,4.6,4.4]
];

// 10m windstoten
const gustOper = [6.4,8.7,8.75,8.9, 11.8,17.2,13.1,8.7, 13.7,23.1,15.4,12.7, 9.3,12.5,8.5,3.5, 5.4,8.7,8.1,6.2, 6.0,6.6,2.8,2.4, 2.8,6.7,6.6,4.0, 4.6,8.4,8.6,4.1, 4.1,8.1,10.1,10.9, 11.3,13.3,13.2,9.4];
const gustCtrl = [6.2,8.5,9.0,8.7, 11.5,17.0,12.8,8.0, 13.3,20.5,15.0,12.3, 9.0,12.0,8.0,3.7, 4.3,8.3,7.8,7.0, 4.9,6.6,4.7,3.2, 3.0,4.4,4.5,4.9, 3.5,6.0,5.9,5.0, 6.4,10.8,12.3,13.1, 13.8,16.6,16.7,10.4, 7.9,4.6,6.1,5.8, 6.4,8.5,9.3,6.7, 6.2,7.0,7.8,6.4, 5.8,8.8,9.6,9.4, 9.1,12.7,11.8,9.6];
const gustAvg = [6.3,8.6,8.9,8.9, 11.8,16.5,13.2,8.5, 13.5,21.3,16.8,13.7, 10.6,13.5,9.5,4.2, 6.5,9.7,8.8,6.5, 6.0,8.0,7.3,6.0, 6.8,8.6,8.7,5.8, 6.2,8.5,9.2,7.3, 6.9,10.8,11.0,9.1, 8.3,10.8,10.9,9.3, 7.9,9.4,10.0,8.1, 6.9,8.1,8.7,6.4, 5.9,7.5,8.5,6.6, 6.0,8.5,9.3,7.7, 7.1,10.2,10.9,8.7];
const gustMembers = [
 [6.4,8.8,9.2,9.2, 12.4,19.0,14.4,9.4, 14.8,24.6,19.6,15.8, 12.8,22.0,12.0,5.0, 7.6,15.0,12.0,8.4, 7.4,13.8,11.2,9.0, 12.4,14.4,18.0,8.6, 8.6,12.8,14.0,10.4, 9.4,15.2,15.8,12.6, 11.4,13.6,14.2,12.8, 12.6,22.4,18.6,11.2, 9.2,13.2,14.2,9.0, 8.0,10.6,12.8,9.6, 8.8,14.2,14.6,11.0, 11.0,17.0,21.4,12.0],
 [6.2,8.4,8.6,8.6, 11.2,14.4,12.0,7.8, 12.6,19.0,14.6,11.8, 9.0,9.8,7.4,3.4, 5.0,6.4,6.0,4.8, 4.2,5.2,4.4,3.8, 3.4,4.4,4.6,3.6, 3.8,4.4,5.2,4.4, 3.8,6.0,6.4,5.6, 3.4,5.8,5.6,5.2, 4.6,5.6,6.2,4.6, 4.0,4.8,5.4,3.8, 3.2,4.6,5.0,3.8, 3.6,4.4,5.4,4.4, 3.8,5.8,6.0,4.6],
 [6.3,8.6,8.9,8.9, 11.8,16.6,13.4,8.6, 13.6,21.8,17.4,13.6, 11.0,15.6,10.0,4.4, 6.6,11.6,10.0,7.0, 5.6,8.8,7.4,5.4, 6.6,8.4,9.0,5.4, 6.2,9.6,10.4,8.4, 7.6,12.6,13.2,11.0, 9.6,12.6,14.6,12.4, 13.0,27.4,23.6,15.0, 8.2,10.0,10.4,7.2, 6.4,8.6,9.8,7.4, 6.8,10.2,11.4,9.0, 8.6,14.0,18.4,10.6],
 [6.3,8.6,8.8,8.8, 11.6,16.0,13.0,8.4, 13.4,20.6,16.2,13.2, 10.2,12.4,9.0,4.2, 6.4,9.0,8.4,6.4, 5.8,7.2,6.8,5.8, 6.2,7.6,7.6,5.4, 5.8,7.8,8.4,6.8, 6.6,9.8,10.0,8.2, 7.6,9.6,9.6,8.2, 7.2,8.4,8.8,7.4, 6.4,7.4,7.8,5.8, 5.4,6.8,7.6,6.0, 5.6,7.8,8.4,7.0, 6.6,9.2,9.6,7.8],
 [6.2,8.5,8.8,8.8, 11.4,15.6,12.6,8.0, 12.8,20.0,15.6,12.6, 9.8,11.6,8.2,3.8, 5.6,7.8,7.4,5.6, 4.8,6.4,5.8,4.6, 5.0,6.2,6.0,4.6, 4.6,6.4,7.0,5.6, 5.4,8.8,8.6,7.4, 6.4,8.4,8.4,7.4, 6.0,7.6,7.8,6.2, 5.2,6.6,6.6,4.8, 4.4,5.8,6.6,5.0, 4.8,6.8,7.4,6.0, 5.4,8.2,8.4,6.6],
 [6.4,8.7,9.0,9.0, 12.0,17.4,13.8,8.8, 14.0,22.8,18.0,14.6, 11.6,16.4,10.8,4.6, 7.0,12.0,10.8,7.6, 6.8,10.2,8.8,7.2, 8.2,10.6,11.4,7.0, 7.2,10.8,11.8,9.4, 8.4,13.6,13.8,11.6, 10.4,13.4,13.0,11.0, 9.8,12.6,13.6,10.4, 9.4,12.4,22.8,8.8, 8.0,10.2,11.6,8.8, 8.0,11.8,13.2,10.4, 9.8,23.4,15.2,11.4],
 [6.3,8.6,8.9,8.9, 11.8,16.4,13.2,8.6, 13.6,21.2,16.8,13.6, 10.6,13.6,9.4,4.2, 6.6,10.0,9.0,6.6, 6.2,8.2,7.4,6.2, 7.0,8.8,9.0,6.0, 6.4,8.8,9.6,7.6, 7.2,11.2,11.4,9.4, 8.6,11.2,11.2,9.6, 8.2,9.8,10.4,8.4, 7.2,8.4,9.0,6.6, 6.0,7.8,8.8,6.8, 6.2,8.8,9.6,8.0, 7.4,10.6,11.4,9.0],
 [6.2,8.5,8.8,8.7, 11.4,15.8,12.8,8.2, 13.0,20.4,16.0,12.8, 10.0,12.0,8.6,4.0, 6.0,8.4,7.8,6.0, 5.4,6.6,6.2,5.2, 5.6,6.8,6.8,5.0, 5.2,7.0,7.6,6.0, 6.0,9.2,9.4,7.8, 7.0,9.0,9.0,7.8, 6.6,8.0,8.4,6.8, 5.8,7.0,7.4,5.2, 4.8,6.2,7.0,5.4, 5.2,7.2,7.8,6.4, 6.0,8.6,9.0,7.2],
 [6.3,8.7,9.0,9.0, 12.0,17.0,13.6,8.8, 13.8,22.0,17.4,14.2, 11.0,14.4,10.0,4.4, 6.8,10.4,9.4,7.0, 6.4,8.6,7.8,6.4, 7.2,9.2,9.4,6.2, 6.6,9.2,10.0,7.8, 7.4,11.6,11.8,9.8, 8.8,11.6,11.8,10.0, 8.4,10.2,10.8,8.8, 7.4,8.8,9.4,6.8, 6.4,8.2,9.2,7.0, 6.4,9.2,10.0,8.2, 7.6,11.0,11.8,9.4],
 [6.2,8.5,8.8,8.8, 11.6,16.0,12.8,8.2, 13.2,20.6,16.2,13.2, 10.2,12.6,9.0,4.0, 6.2,9.0,8.2,6.0, 5.6,7.4,6.8,5.6, 6.4,8.0,8.0,5.4, 5.8,7.8,8.4,6.8, 6.4,10.0,10.2,8.4, 7.8,10.0,10.0,8.6, 7.4,8.6,9.2,7.4, 6.4,7.4,8.0,6.0, 5.4,6.8,7.8,6.2, 5.6,7.8,8.6,7.2, 6.6,9.4,10.0,8.0],
 [6.3,8.6,8.9,8.9, 11.8,16.6,13.2,8.6, 13.6,21.4,17.0,13.8, 10.8,13.8,9.6,4.2, 6.6,9.8,9.0,6.6, 6.0,8.2,7.4,6.0, 6.8,8.8,8.8,5.8, 6.2,8.6,9.4,7.4, 7.0,11.0,11.2,9.2, 8.4,11.0,11.0,9.4, 8.0,9.6,10.2,8.2, 7.0,8.2,8.8,6.4, 6.0,7.6,8.6,6.6, 6.0,8.6,9.4,7.8, 7.2,10.4,11.0,8.8],
 [6.3,8.6,8.9,8.8, 11.7,16.2,13.0,8.4, 13.4,21.0,16.6,13.4, 10.4,13.2,9.2,4.0, 6.4,9.4,8.6,6.4, 5.8,7.8,7.0,5.8, 6.6,8.4,8.4,5.6, 6.0,8.2,9.0,7.0, 6.8,10.6,10.6,8.8, 8.0,10.4,10.6,9.0, 7.6,9.0,9.6,7.8, 6.6,7.8,8.4,6.2, 5.8,7.2,8.2,6.4, 5.8,8.2,9.0,7.4, 6.8,9.8,10.4,8.4],
 [6.4,8.7,9.0,9.0, 12.0,16.8,13.4,8.8, 13.8,21.8,17.2,14.0, 10.8,14.0,9.8,4.4, 6.8,10.2,9.2,6.8, 6.2,8.4,7.6,6.2, 7.0,9.0,9.2,6.0, 6.4,9.0,9.8,7.6, 7.2,11.4,11.4,9.6, 8.6,11.4,11.4,9.8, 8.2,9.8,10.6,8.6, 7.2,8.6,9.2,6.8, 6.2,8.0,9.0,7.0, 6.2,9.0,9.8,8.0, 7.4,10.8,11.4,9.2]
];
const gustRefLines = [28, 20.8];

// Bedekkingsgraad (6-hourly, from Tue 8 Mar 09 UTC)
const cloudOper = [0,0,0,0, 100,93,35,35, 63,99,58,88, 39,54,17,40, 75,98,97,100, 100,77,100,100, 35,65,100,95, 100,100,100,100, 97,87,26,60, 99,100,100,100];
const cloudCtrl = [0,0,0,0, 100,68,11,2, 98,83,75,82, 88,71,78,79, 93,86,23,99, 100,100,100,18, 48,6,42,9, 8,9,72,80, 40,1,48,49, 91,97,68,100, 100,100,100,100, 100,100,100,100, 100,100,97,99, 100,100,88,88, 92,39,60,95];
const cloudLo  = [0,0,0,0, 98,65,11,7, 54,98,81,15, 3.5,16,10,35, 42,35,80,60, 75,72,62,63, 53,47,5,1, 1,1,1,5, 3,3,1,2.5, 1,1,1,4, 3,3,6,4.5, 10,19.5,10,7, 5,16,14.5,18, 14.5,29,4.5,2, 3,27,16,8];
const cloudHi  = [0,0,0,1, 100,100,58,65, 100,100,98,89, 61,80,95,99, 100,100,100,100, 100,100,100,100, 100,100,92,87, 96,81,76,99, 81,88,74,74, 100,100,100,100, 100,95,95,92, 93,96,93,94, 98,97,95,93, 97,99,92,92, 92,99,94,95];
const cloudMed = [0,0,0,0, 100,95,28,25, 80,99,93,64, 13,38,55,81, 97,87,97,99, 96,95,93,95, 98,90,55,27, 30,27,24,10, 45,28,26,3, 26,81,67,62, 70,56,70,44, 57,54,48,35, 70,85,58,56, 54,88,52,24, 58,84,78,67];

// ---------------- CHART ----------------
const HOUR = 3600e3;
const START = Date.UTC(2022,2,8,6);
const CSTART = Date.UTC(2022,2,8,9);
const COL = {oper:"#dc3636", ctrl:"#3535d6", avg:"#800000", mem:"#3a9c1c"};
const svg = d3.select("#c");
const L = 28.5;

const xTop = d3.scaleTime().domain([new Date(START), new Date(START + 354*HOUR)]).range([L, 633.5]);
const xBot = d3.scaleTime().domain([new Date(CSTART), new Date(CSTART + 352.5*HOUR)]).range([L, 630.5]);

function snap(v){ return Math.round(v - 0.5) + 0.5; }

function drawFrame(g, x, y, top, bot, right, ticks){
  const dom = y.domain();
  ticks.forEach(v => {
    if (v === dom[0] || v === dom[1]) return;
    g.append("line").attr("x1", L).attr("x2", right).attr("y1", snap(y(v))).attr("y2", snap(y(v)))
      .attr("stroke", "#c2bccc").attr("stroke-dasharray", "3,2").attr("stroke-width", 1);
  });
  const times = d3.utcHour.every(6).range(x.domain()[0], x.domain()[1]);
  times.forEach(t => {
    const xx = snap(x(t));
    if (xx <= L + 0.6 || xx >= right - 0.6) return;
    const mid = t.getUTCHours() === 0;
    g.append("line").attr("x1", xx).attr("x2", xx).attr("y1", top).attr("y2", bot)
      .attr("stroke", mid ? "#4a4a4a" : "#c2bccc").attr("stroke-width", 1)
      .attr("stroke-dasharray", mid ? null : "3,2");
  });
  times.forEach(t => {
    const xx = snap(x(t));
    if (xx < L || xx > right) return;
    g.append("line").attr("x1", xx).attr("x2", xx).attr("y1", bot).attr("y2", bot + 5)
      .attr("stroke", "#000").attr("stroke-width", 1);
  });
  dayLabels.forEach((lab, i) => {
    const t = new Date(Date.UTC(2022, 2, 9 + i));
    g.append("text").attr("x", x(t) - 1).attr("y", bot + 16).attr("text-anchor", "middle")
      .attr("font-size", 11).attr("fill", "#000").text(lab);
  });
}

function drawAxisBox(g, y, top, bot, right, ticks){
  const ax = g.append("g").attr("transform", `translate(${L},0)`)
    .call(d3.axisLeft(y).tickValues(ticks).tickSize(6).tickSizeOuter(0).tickPadding(2).tickFormat(d3.format("d")));
  ax.selectAll("text").attr("font-size", 11).attr("fill", "#000").style("font-family", '"Liberation Sans",Arial,sans-serif');
  ax.selectAll("line,path").attr("stroke", "#000");
  g.append("rect").attr("x", L).attr("y", top).attr("width", right - L).attr("height", bot - top)
    .attr("fill", "none").attr("stroke", "#000").attr("stroke-width", 1);
}

function header(g, title, top){
  g.append("text").attr("x", 415).attr("y", top - 4).attr("text-anchor", "middle")
    .attr("font-size", 13.5).attr("font-weight", "bold").attr("fill", "#000").text(title);
  g.append("text").attr("x", 633).attr("y", top - 13).attr("text-anchor", "end")
    .attr("font-size", 9.6).attr("fill", "#999").text(sourceLines[0]);
  g.append("text").attr("x", 633).attr("y", top - 3.5).attr("text-anchor", "end")
    .attr("font-size", 9.6).attr("fill", "#999").text(sourceLines[1]);
}

function legendLines(g, top){
  const ly = top - 7.5;
  const items = [
    {x0:28, x1:44, tx:47.5, stroke:COL.oper, w:4.5},
    {x0:96.5, x1:112.5, tx:115.5, stroke:COL.ctrl, w:4.5},
    {x0:175, x1:189, tx:193, stroke:"#8cc878", w:1},
    {x0:261.5, x1:276.5, tx:281.5, stroke:COL.avg, w:3.5, dash:"2.5,2"}
  ];
  items.forEach((it, i) => {
    g.append("line").attr("x1", it.x0).attr("x2", it.x1).attr("y1", ly).attr("y2", ly)
      .attr("stroke", it.stroke).attr("stroke-width", it.w).attr("stroke-dasharray", it.dash || null);
    g.append("text").attr("x", it.tx).attr("y", ly + 4).attr("font-size", 11).attr("fill", "#000").text(legendNames[i]);
  });
}

const panels = [
  {title:"Temperatuur 2m", dom:[-10,25], step:5, oper:tempOper, ctrl:tempCtrl, avg:tempAvg, mem:tempMembers, zero:true},
  {title:"Dauwpunt 2m", dom:[-15,15], step:5, oper:dewOper, ctrl:dewCtrl, avg:dewAvg, mem:dewMembers},
  {title:"Neerslag", dom:[0,10], step:2, oper:rainOper, ctrl:rainCtrl, avg:rainAvg, mem:rainMembers},
  {title:"10m wind", dom:[0,16], step:2, oper:windOper, ctrl:windCtrl, avg:windAvg, mem:windMembers},
  {title:"10m windstoten", dom:[0,30], step:2, oper:gustOper, ctrl:gustCtrl, avg:gustAvg, mem:gustMembers, refs:gustRefLines}
];

const tTop = i => new Date(START + i * 6 * HOUR);
const tBot = i => new Date(CSTART + i * 6 * HOUR);

panels.forEach((p, pi) => {
  const top = 20.5 + 300 * pi, bot = top + 260, right = 633.5;
  const g = svg.append("g");
  const y = d3.scaleLinear().domain(p.dom).range([bot, top]);
  const ticks = d3.range(p.dom[0], p.dom[1] + p.step / 2, p.step);
  drawFrame(g, xTop, y, top, bot, right, ticks);
  const line = d3.line().x((d, i) => xTop(tTop(i))).y(d => y(d));
  const mg = g.append("g");
  p.mem.forEach(m => {
    mg.append("path").attr("d", line(m)).attr("fill", "none").attr("stroke", COL.mem)
      .attr("stroke-width", 1.1).attr("stroke-opacity", 0.58).attr("stroke-linejoin", "round");
  });
  if (p.zero) {
    g.append("line").attr("x1", L).attr("x2", right).attr("y1", y(0)).attr("y2", y(0))
      .attr("stroke", "#000").attr("stroke-width", 2);
  }
  if (p.refs) {
    g.append("line").attr("x1", L).attr("x2", right).attr("y1", y(p.refs[0])).attr("y2", y(p.refs[0]))
      .attr("stroke", "#ff44ff").attr("stroke-width", 2).attr("stroke-dasharray", "6,3");
    g.append("line").attr("x1", L).attr("x2", right).attr("y1", y(p.refs[1])).attr("y2", y(p.refs[1]))
      .attr("stroke", "#1f4f4f").attr("stroke-width", 2).attr("stroke-dasharray", "2,2");
  }
  g.append("path").attr("d", line(p.avg)).attr("fill", "none").attr("stroke", COL.avg)
    .attr("stroke-width", 3).attr("stroke-dasharray", "2.5,2.5");
  g.append("path").attr("d", line(p.ctrl)).attr("fill", "none").attr("stroke", COL.ctrl)
    .attr("stroke-width", 3).attr("stroke-linejoin", "round");
  g.append("path").attr("d", line(p.oper)).attr("fill", "none").attr("stroke", COL.oper)
    .attr("stroke-width", 3).attr("stroke-linejoin", "round");
  drawAxisBox(g, y, top, bot, right, ticks);
  header(g, p.title, top);
  legendLines(g, top);
});

// ---- Bedekkingsgraad ----
(function(){
  const top = 1520.5, bot = 1780.5, right = 630.5;
  const g = svg.append("g");
  const y = d3.scaleLinear().domain([0,100]).range([bot, top]);
  const ticks = d3.range(0, 101, 10);
  const bw = 8;
  const bars = g.append("g");
  cloudHi.forEach((hi, i) => {
    const cx = xBot(tBot(i));
    const lo = cloudLo[i];
    bars.append("rect").attr("x", cx - bw/2).attr("y", y(hi)).attr("width", bw)
      .attr("height", Math.max(0, y(lo) - y(hi))).attr("fill", "#ffffb0").attr("stroke", "#cfcfb0").attr("stroke-width", 0.8);
  });
  drawFrame(g, xBot, y, top, bot, right, ticks);
  cloudMed.forEach((m, i) => {
    const cx = xBot(tBot(i));
    if (cloudHi[i] - cloudLo[i] < 0.5) return;
    g.append("line").attr("x1", cx - bw/2).attr("x2", cx + bw/2).attr("y1", y(m)).attr("y2", y(m))
      .attr("stroke", "#000").attr("stroke-width", 1.5);
  });
  const line = d3.line().x((d, i) => xBot(tBot(i))).y(d => y(d));
  g.append("path").attr("d", line(cloudCtrl)).attr("fill", "none").attr("stroke", COL.ctrl).attr("stroke-width", 3).attr("stroke-linejoin", "round");
  g.append("path").attr("d", line(cloudOper)).attr("fill", "none").attr("stroke", COL.oper).attr("stroke-width", 3).attr("stroke-linejoin", "round");
  drawAxisBox(g, y, top, bot, right, ticks);
  header(g, "Bedekkingsgraad", top);
  const ly = top - 7.5;
  const items = [
    {x:28, tx:39, fill:COL.oper},
    {x:86, tx:97.5, fill:COL.ctrl},
    {x:155.5, tx:166.5, fill:"#ffffb0"},
    {x:213, tx:224, fill:"#000"}
  ];
  items.forEach((it, i) => {
    g.append("rect").attr("x", it.x + 0.5).attr("y", ly - 3.5).attr("width", 7).attr("height", 7)
      .attr("fill", it.fill).attr("stroke", "#555").attr("stroke-width", 1);
    g.append("text").attr("x", it.tx).attr("y", ly + 4).attr("font-size", 11).attr("fill", "#000").text(cloudLegendNames[i]);
  });
})();
</script>
</body></html>
